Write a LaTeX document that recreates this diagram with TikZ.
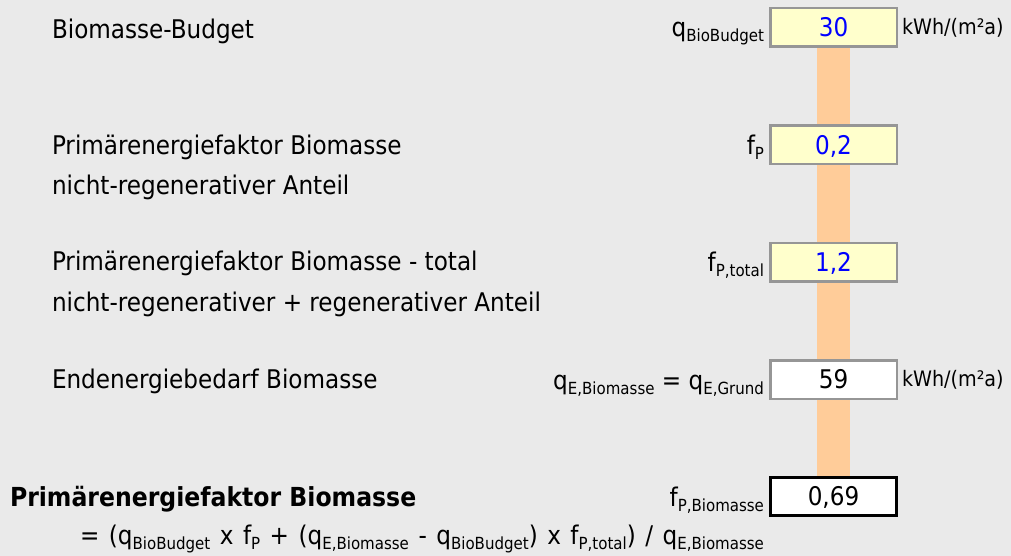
\documentclass[tikz,border=0pt]{standalone}
\usepackage{fontspec}
\setmainfont{DejaVu Sans Condensed}
\definecolor{bggray}{RGB}{234,234,234}
\definecolor{boxgray}{RGB}{150,150,150}
\definecolor{inyellow}{RGB}{255,255,204}
\definecolor{inblue}{RGB}{0,0,255}
\definecolor{barorange}{RGB}{255,204,153}
\newcommand\sbs[1]{\raisebox{-5pt}{\fontsize{16.7}{18}\selectfont #1}}
\pgfdeclarelayer{bglayer}
\pgfdeclarelayer{barlayer}
\pgfsetlayers{bglayer,barlayer,main}
\begin{document}
\begin{tikzpicture}[x=1pt,y=-1pt,
  every node/.style={inner sep=0pt, outer sep=0pt},
  lbl/.style={anchor=base west, font=\fontsize{25.7}{30}\selectfont},
  sym/.style={anchor=base east, font=\fontsize{25.7}{30}\selectfont},
  unit/.style={anchor=base west, font=\fontsize{21.3}{24}\selectfont},
  inbox/.style={draw=boxgray, line width=2.5pt, fill=inyellow, minimum width=126.5pt, minimum height=38.5pt, text=inblue, font=\fontsize{25.7}{30}\selectfont, text height=18.7pt, text depth=0pt},
  calcbox/.style={inbox, fill=white, text=black},
  resbox/.style={inbox, draw=black, line width=3pt, minimum width=126pt, minimum height=38pt, fill=white, text=black},
  bar/.style={draw=barorange, line width=33.5pt}
]
\begin{pgfonlayer}{bglayer}
\fill[bggray] (0,0) rectangle (1011,556);
\end{pgfonlayer}
\useasboundingbox (0,0) rectangle (1011,556);

% boxes
\node[inbox] (b1) at (833.5,27.5) {30};
\node[inbox] (b2) at (833.5,144.7) {0,2};
\node[inbox] (b3) at (833.5,262) {1,2};
\node[calcbox] (b4) at (833.5,379.6) {59};
\node[resbox] (b5) at (833.5,496.4) {0,69};

% bars
\begin{pgfonlayer}{barlayer}
\draw[bar] (b1.center) -- (b2.center);
\draw[bar] (b2.center) -- (b3.center);
\draw[bar] (b3.center) -- (b4.center);
\draw[bar] (b4.center) -- (b5.center);
\end{pgfonlayer}

% left labels
\node[lbl] (t1) at (52,38.3) {Biomasse-Budget};
\node[lbl] (t2) at (52,155) {Primärenergiefaktor Biomasse};
\node[lbl] (t2b) at (52,194.3) {nicht-regenerativer Anteil};
\node[lbl] (t3) at (52,270.7) {Primärenergiefaktor Biomasse - total};
\node[lbl] (t3b) at (52,311) {nicht-regenerativer + regenerativer Anteil};
\node[lbl] (t4) at (52,388.3) {Endenergiebedarf Biomasse};
\node[lbl, font=\fontsize{26.2}{30}\selectfont\bfseries] (t5) at (10,506.7) {Primärenergiefaktor Biomasse};
\node[lbl] (t5b) at (80,544.3) {\hbox to 684pt{= (q\sbs{BioBudget} x f\sbs{P} + (q\sbs{E,Biomasse} - q\sbs{BioBudget}) x f\sbs{P,total}) / q\sbs{E,Biomasse}}};

% symbols
\node[sym] (s1) at (764,37) {q\sbs{BioBudget}};
\node[sym] (s2) at (764,154.2) {f\sbs{P}};
\node[sym] (s3) at (764,271.5) {f\sbs{P,total}};
\node[sym] (s4) at (764,389) {q\sbs{E,Biomasse} = q\sbs{E,Grund}};
\node[sym] (s5) at (764,506) {f\sbs{P,Biomasse}};

% units
\node[unit] (u1) at (902,35) {kWh/(m²a)};
\node[unit] (u4) at (902,386) {kWh/(m²a)};
\end{tikzpicture}
\end{document}
